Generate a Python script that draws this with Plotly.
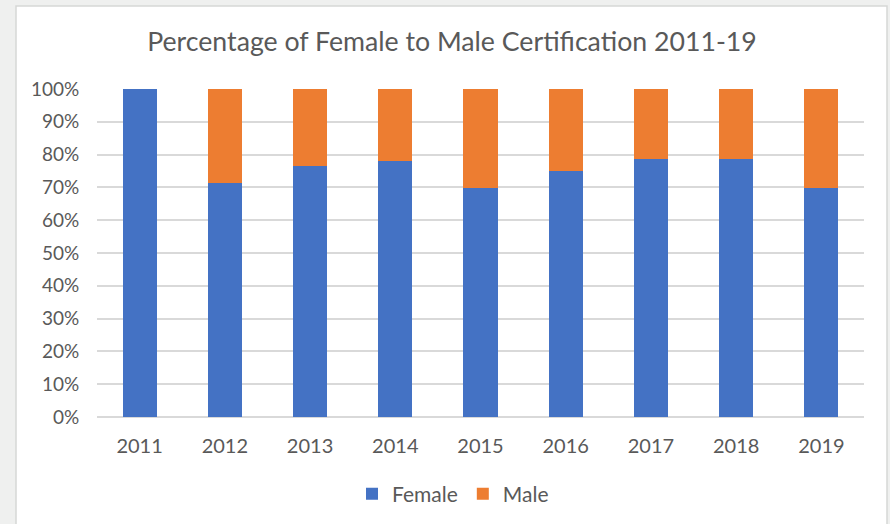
import plotly.graph_objects as go

years = ["2011", "2012", "2013", "2014", "2015", "2016", "2017", "2018", "2019"]
female = [1.00, 0.713, 0.766, 0.781, 0.699, 0.751, 0.788, 0.788, 0.699]
male = [0.0, 0.287, 0.234, 0.219, 0.301, 0.249, 0.212, 0.212, 0.301]
y_ticks = [0, 0.1, 0.2, 0.3, 0.4, 0.5, 0.6, 0.7, 0.8, 0.9, 1.0]
y_tick_labels = ["0%", "10%", "20%", "30%", "40%", "50%", "60%", "70%", "80%", "90%", "100%"]

FONT = "Lato"
TXT = "#595959"

fig = go.Figure()
fig.add_trace(go.Bar(x=years, y=female, name="Female", marker_color="#4472C4",
                     marker_line_width=0))
fig.add_trace(go.Bar(x=years, y=male, name="Male", marker_color="#ED7D31",
                     marker_line_width=0))

W, H = 890, 524
ml, mr, mt, mb = 97, 26, 89, 107
pw, ph = W - ml - mr, H - mt - mb

def px_x(x):
    return (x - ml) / pw

def px_y(y):
    return (H - mb - y) / ph

fig.update_layout(
    width=W, height=H,
    barmode="stack",
    bargap=0.6,
    margin=dict(l=ml, r=mr, t=mt, b=mb, autoexpand=False),
    paper_bgcolor="#EFF0EF",
    plot_bgcolor="white",
    font=dict(family=FONT, color=TXT, size=19),
    title=dict(text="Percentage of Female to Male Certification 2011-19",
               x=452 / W, xanchor="center", y=1 - 42 / H, yanchor="middle",
               font=dict(family=FONT, size=26.7, color=TXT)),
    xaxis=dict(showgrid=False, showline=False, ticks="outside", ticklen=11,
               tickcolor="rgba(0,0,0,0)", tickfont=dict(size=20, color=TXT)),
    yaxis=dict(range=[0, 1], tickvals=y_ticks, ticktext=y_tick_labels,
               gridcolor="#D9D9D9", gridwidth=1.5, showline=False, zeroline=True,
               zerolinecolor="#D9D9D9", zerolinewidth=1.5,
               ticks="outside", ticklen=13, tickcolor="rgba(0,0,0,0)",
               tickfont=dict(size=19, color=TXT)),
    legend=dict(orientation="h", x=px_x(453), xanchor="center", y=px_y(494),
                yanchor="middle", font=dict(size=21, color=TXT),
                bgcolor="rgba(0,0,0,0)",
                traceorder="normal"),
    shapes=[dict(type="rect", xref="paper", yref="paper", layer="below",
                 x0=px_x(16), x1=px_x(887), y0=px_y(H + 5), y1=px_y(6),
                 fillcolor="white", line=dict(color="#D6D7D6", width=1.5))],
)

fig.write_html("out.html", post_script="document.body.style.margin='0';",
               config={"displayModeBar": False})
